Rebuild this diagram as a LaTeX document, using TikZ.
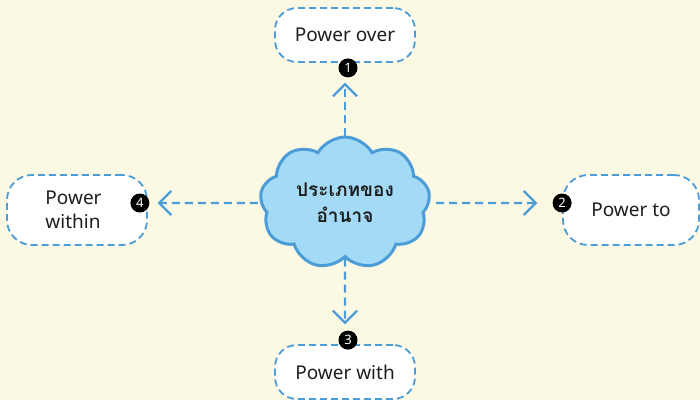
\documentclass[tikz,border=0pt]{standalone}
\usepackage{fontspec}
\setmainfont{Noto Sans}
\newfontfamily\thaifont[Script=Thai]{Loma}
\usetikzlibrary{positioning,shapes.symbols,arrows.meta}
\definecolor{paper}{RGB}{251,248,228}
\definecolor{line}{RGB}{76,157,215}
\definecolor{puff}{RGB}{163,218,245}
\definecolor{ink}{RGB}{30,30,30}
\tikzset{
  box/.style={draw=line, dash pattern=on 7pt off 4pt, line width=1.8pt, rounded corners=22pt,
    fill=white, minimum width=140pt, minimum height=54pt, text=ink, font=\fontsize{19}{24}\selectfont},
  num/.style={circle, fill=black, text=white, inner sep=0pt, minimum size=19pt,
    font=\bfseries\fontsize{13}{13}\selectfont},
  arr/.style={draw=line, line width=2.4pt, dash pattern=on 8pt off 5pt,
    -{Straight Barb[length=12pt,width=24pt,line width=2.4pt]}},
}
\begin{document}
\begin{tikzpicture}[x=1pt,y=1pt,on grid]
\fill[paper] (-345,-197) rectangle (355,203);
\useasboundingbox (-345,-197) rectangle (355,203);
\node[cloud, cloud puffs=9, cloud puff arc=120, aspect=1.35, draw=line, line width=3pt, fill=puff,
  minimum width=170pt, minimum height=128pt, text=ink, align=center,
  font=\thaifont\bfseries\fontsize{19}{26}\selectfont] (c) {ประเภทของ\\อำนาจ};
\node[box, above=168pt of c](po){Power over};
\node[box, below=169pt of c](pwi){Power with};
\node[box, below left=7pt and 268pt of c, minimum height=70pt, rounded corners=25pt, align=left](pwn){Power\\within\hspace*{8pt}};
\node[box, below right=7pt and 286pt of c, minimum width=136pt, minimum height=70pt, rounded corners=25pt](pt){Power to};
\node[num, xshift=3pt, yshift=-5pt] at (po.south) (n1){1};
\node[num, yshift=7pt] at (pt.west) (n2){2};
\node[num, xshift=3pt, yshift=4pt] at (pwi.north) (n3){3};
\node[num, xshift=-8pt, yshift=7pt] at (pwn.east) (n4){4};
\draw[arr, shorten <=0pt, shorten >=5pt] (c) -- (c |- n1.south);
\draw[arr, shorten <=6pt, shorten >=15pt] (c) -- (n2);
\draw[arr, shorten <=0pt, shorten >=6pt] (c) -- (c |- n3.north);
\draw[arr, shorten <=2pt, shorten >=8pt] (c) -- (n4);
\end{tikzpicture}
\end{document}
